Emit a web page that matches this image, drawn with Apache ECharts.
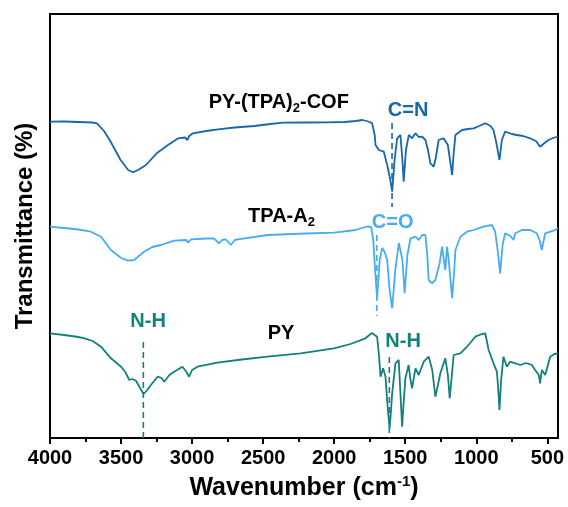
<!DOCTYPE html>
<html>
<head>
<meta charset="utf-8">
<script src="https://cdn.jsdelivr.net/npm/echarts@6/dist/echarts.min.js"></script>
<style>
  html, body { margin: 0; padding: 0; background: #fff; }
  #main { width: 568px; height: 507px; }
</style>
</head>
<body>
<div id="main"></div>
<script>
// FTIR spectra, offset vertically (arbitrary transmittance units)
var cofWn = [4000,3900,3800,3700,3669,3620,3580,3503,3450,3415,3380,3325,3249,3170,3097,3050,3033,3020,2995,2900,2817,2700,2562,2450,2359,2200,2050,1927,1850,1800,1760,1733,1715,1709,1686,1651,1627,1605,1592,1575,1557,1534,1520,1511,1495,1475,1452,1428,1405,1381,1358,1340,1323,1300,1285,1265,1230,1200,1180,1170,1160,1147,1100,1060,1019,980,937,900,879,860,837,820,797,750,715,670,621,580,551,520,492,460,425];
var cofT = [316.3,316.5,316,315.5,314.7,307,298,278,268,265.7,268,273,284.7,293,299.7,300.5,298,302,304.7,307,308.7,310.5,312,314,315.3,315.5,315.7,316,317,318,316.5,314.7,303,293,288,286.3,273,258,246.3,278,299.7,303,278,256.3,288,303,299.7,304.7,301,301.3,298,288,274.7,271.3,280,298,299.7,293,273,263,283,303,308,309,309.7,312,314.7,312,308,296,278,298,306.3,304,303,302,299.7,297,291.3,295,298,300,301.3];

var tpaWn = [4000,3900,3800,3711,3641,3571,3500,3451,3408,3338,3280,3219,3127,3040,3029,3008,2900,2846,2811,2790,2763,2727,2700,2678,2468,2200,2000,1850,1768,1740,1725,1712,1698,1680,1662,1645,1627,1610,1592,1570,1545,1534,1520,1504,1485,1463,1428,1405,1381,1358,1345,1335,1312,1288,1258,1241,1218,1206,1194,1170,1155,1147,1112,1065,1019,949,890,867,850,832,815,797,760,738,726,679,621,574,555,539,525,515,457,425];
var tpaT = [211.3,210,208.5,206.3,201.3,188,180,177.3,178,186.3,191,193,197.3,198,195.3,198.7,199.5,199.7,194.7,198,198.7,193,198,198.7,203,204.5,205.3,208,211.5,211,198,168,139.7,178,190,186,178,148,129.7,168,195,196.3,178,144.7,183,199.7,201.3,198,203,203,183,158,154.7,158,174.7,191.3,168,191.3,178,139.7,168,188,201.3,206.3,208,211.3,213,206.3,188,164.7,193,204.7,202,198,204.7,208,208,204.7,198,188,198,204.7,207.3,209.7];

var pyWn = [4000,3900,3800,3758,3700,3641,3571,3500,3470,3442,3420,3395,3370,3342,3315,3290,3243,3215,3196,3160,3126,3068,3040,3021,3000,2962,2822,2650,2470,2236,2002,1885,1780,1735,1721,1698,1685,1674,1656,1639,1625,1610,1600,1592,1569,1546,1535,1522,1510,1499,1476,1465,1452,1428,1405,1370,1335,1310,1288,1270,1253,1218,1200,1187,1172,1159,1112,1065,1007,960,937,913,879,855,845,837,825,809,785,762,691,650,609,586,560,551,539,515,480,450,425];
var pyT = [104.7,103,101,99.7,97,91.3,79.7,71.3,66,58,59,57.3,51,44,48,53,61.3,60,56.3,63,66.3,71.3,66,61.3,68,71.3,75.3,78.5,81.3,84.7,89.7,94,99.7,105,106.3,101.3,83,61.3,69.7,61.3,33,9.7,28,44.7,74.7,78,48,11.3,38,59.7,73,60,49.7,69.7,63,76.3,81.3,68,41.3,53,64.7,79.7,63,39.7,63,83,84.7,91.3,101.3,104,104.7,88,74.7,66.3,48,28,58,81.3,71.3,76.3,73,75,73,68,63,54.7,68,63,81.3,84,84.7];

var majorTicks = [4000,3500,3000,2500,2000,1500,1000,500];
var minorTicks = [3750,3250,2750,2250,1750,1250,750];

// peak markers: [wavenumber, top, bottom]
var markCN = [1593, 315, 231];
var markCO = [1700, 203, 122];
var markNH1 = [3343, 96, 0];
var markNH2 = [1612, 81, 0];

// annotation labels: [wavenumber, value, text]
var labelsBlack = [[2390, 335.5, '{a|PY-(TPA)}{s|2}{a|-COF}'], [2371, 221.3, '{a|TPA-A}{s|2}'], [2374, 104.7, '{a|PY}']];
var labelsCOF = [[1480, 328, 'C=N']];
var labelsTPA = [[1589, 215.3, 'C=O']];
var labelsPY = [[3310, 116.3, 'N-H'], [1515, 96.3, 'N-H']];

var colCOF = '#1766ae';
var colTPA = '#46adf0';
var colPY = '#12807b';

function pairs(xs, ys) {
  return xs.map(function (x, i) { return [x, ys[i]]; });
}

function dashed(m, color) {
  return {
    type: 'line', data: [[m[0], m[1]], [m[0], m[2]]], symbol: 'none', silent: true,
    lineStyle: { color: color, width: 1.6, type: [6, 4] }, z: 3
  };
}

var richSub = {
  a: { fontSize: 20, fontWeight: 'bold', fontFamily: 'Liberation Sans, Arial', color: '#000' },
  s: { fontSize: 13, fontWeight: 'bold', fontFamily: 'Liberation Sans, Arial', color: '#000', padding: [12, 0, 0, 0] }
};

function labelSeries(items, color) {
  return {
    type: 'scatter', symbolSize: 0, silent: true, z: 5,
    itemStyle: { opacity: 1 },
    data: items.map(function (d) { return { value: [d[0], d[1]], name: d[2] }; }),
    label: {
      show: true, position: 'inside', opacity: 1, formatter: function (p) { return p.name; },
      fontSize: 20, fontWeight: 'bold', fontFamily: 'Liberation Sans, Arial', color: color,
      rich: richSub
    }
  };
}

var myChart = echarts.init(document.getElementById('main'));

var axisX = {
  type: 'value', inverse: true, min: 425, max: 4000, position: 'bottom',
  splitLine: { show: false }
};

var option = {
  backgroundColor: '#fff',
  animation: false,
  grid: { left: 50, right: 10, top: 14, bottom: 69, show: true, borderColor: '#000', borderWidth: 2 },
  xAxis: [
    Object.assign({}, axisX, {
      axisLine: { lineStyle: { color: '#000', width: 2 } },
      axisTick: { show: true, length: 6, customValues: majorTicks, lineStyle: { color: '#000', width: 2 } },
      axisLabel: {
        customValues: majorTicks, margin: 10, fontSize: 20, fontWeight: 'bold',
        fontFamily: 'Liberation Sans, Arial', color: '#000',
        formatter: function (v) { return String(v); }
      },
      name: '{t|Wavenumber (cm}{p|-1}{t|)}',
      nameLocation: 'middle', nameGap: 36,
      nameTextStyle: {
        rich: {
          t: { fontSize: 25, fontWeight: 'bold', fontFamily: 'Liberation Sans, Arial', color: '#000' },
          p: { fontSize: 15, fontWeight: 'bold', fontFamily: 'Liberation Sans, Arial', color: '#000', padding: [0, 0, 14, 0] }
        }
      }
    }),
    Object.assign({}, axisX, {
      axisLine: { show: false },
      axisTick: { show: true, length: 4, customValues: minorTicks, lineStyle: { color: '#000', width: 2 } },
      axisLabel: { show: false }
    })
  ],
  yAxis: {
    type: 'value', min: 0, max: 424,
    axisLine: { show: true, lineStyle: { color: '#000', width: 2 } },
    axisTick: { show: false }, axisLabel: { show: false }, splitLine: { show: false },
    name: 'Transmittance (%)', nameLocation: 'middle', nameGap: 13,
    nameTextStyle: { fontSize: 24, fontWeight: 'bold', fontFamily: 'Liberation Sans, Arial', color: '#000' }
  },
  series: [
    { type: 'line', name: 'PY-(TPA)2-COF', data: pairs(cofWn, cofT), symbol: 'none', lineStyle: { color: colCOF, width: 1.8 }, z: 4 },
    { type: 'line', name: 'TPA-A2', data: pairs(tpaWn, tpaT), symbol: 'none', lineStyle: { color: colTPA, width: 1.8 }, z: 4 },
    { type: 'line', name: 'PY', data: pairs(pyWn, pyT), symbol: 'none', lineStyle: { color: colPY, width: 1.8 }, z: 4 },
    dashed(markCN, colCOF),
    dashed(markCO, colTPA),
    dashed(markNH1, colPY),
    dashed(markNH2, colPY),
    labelSeries(labelsBlack, '#000'),
    labelSeries(labelsCOF, colCOF),
    labelSeries(labelsTPA, colTPA),
    labelSeries(labelsPY, colPY)
  ]
};

myChart.setOption(option);
</script>
</body>
</html>
